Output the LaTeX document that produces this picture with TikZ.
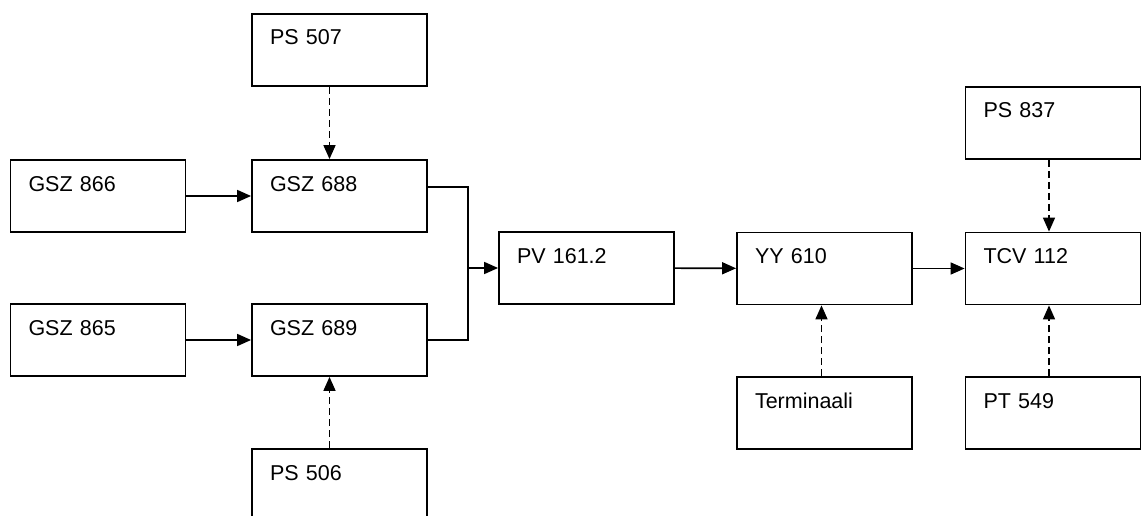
\documentclass[tikz,border=0pt]{standalone}
\usepackage{fontspec}
\setmainfont{Liberation Sans}
\usetikzlibrary{arrows.meta}

\begin{document}
\begin{tikzpicture}[x=1pt, y=-1pt,
    block/.style={draw, line width=1.8pt, rectangle, inner xsep=18pt, inner ysep=0pt,
      text width=139pt, align=left, text height=31pt, text depth=41pt,
      font=\fontsize{21.5}{25}\selectfont},
    flow/.style={line width=1.6pt, -{Triangle[length=14pt, width=12pt]}},
    ctrl/.style={flow, dash pattern=on 7pt off 4pt}]
    \useasboundingbox (0,0) rectangle (1141,516);

    % Draw nodes
    \node[block] (ps507) at (339.5,50) {PS 507};
    \node[block] (gsz866) at (98,196) {GSZ 866};
    \node[block] (gsz688) at (339.5,196) {GSZ 688};
    \node[block] (gsz865) at (98,340) {GSZ 865};
    \node[block] (gsz689) at (339.5,340) {GSZ 689};
    \node[block] (ps506) at (339.5,485) {PS 506};
    \node[block] (pv1612) at (586.5,268) {PV 161.2};
    \node[block] (yy610) at (824.5,268.5) {YY 610};
    \node[block] (tcv112) at (1053,268.5) {TCV 112};
    \node[block] (ps837) at (1053,123) {PS 837};
    \node[block] (term) at (824.5,413) {Terminaali};
    \node[block] (pt549) at (1053,413) {PT 549};
    \coordinate (join) at (468,268);

    % Draw connections
    \draw[flow] (gsz866) -- (gsz688);
    \draw[flow] (gsz865) -- (gsz689);
    \draw[ctrl] ([xshift=-10pt]ps507.south) -- ([xshift=-10pt]gsz688.north);
    \draw[ctrl] ([xshift=-10pt]ps506.north) -- ([xshift=-10pt]gsz689.south);
    \draw[line width=1.6pt] ([yshift=9pt]gsz688.east) -| (join);
    \draw[line width=1.6pt] (gsz689.east) -| (join);
    \draw[flow] (join) -- (pv1612.west);
    \draw[flow] (pv1612) -- (yy610);
    \draw[flow] (yy610) -- (tcv112);
    \draw[ctrl] ([xshift=-3pt]term.north) -- ([xshift=-3pt]yy610.south);
    \draw[ctrl] ([xshift=-4pt]ps837.south) -- ([xshift=-4pt]tcv112.north);
    \draw[ctrl] ([xshift=-4pt]pt549.north) -- ([xshift=-4pt]tcv112.south);
\end{tikzpicture}
\end{document}
